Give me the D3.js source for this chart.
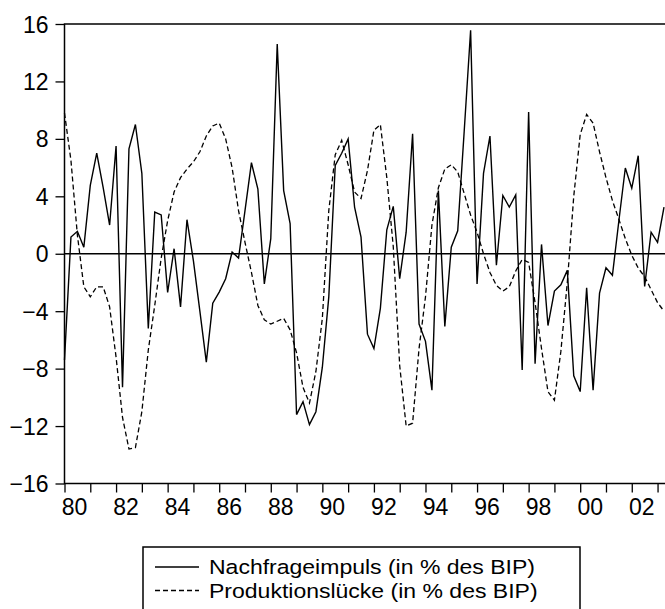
<!DOCTYPE html>
<html>
<head>
<meta charset="utf-8">
<script src="https://cdn.jsdelivr.net/npm/d3@7"></script>
<style>
  html, body { margin: 0; padding: 0; background: #fff; }
  svg { display: block; }
  text { font-family: "Liberation Sans", Arial, Helvetica, sans-serif; fill: #000; }
</style>
</head>
<body>
<svg id="chart" width="665" height="609"></svg>
<script>
// ---- Data (quarterly, 1980Q1 – 2003Q2) ----
const startYear = 1980;
const nachfrage = [
  -7.4, 1.16, 1.56, 0.46, 4.76, 7.0, 4.6, 2.0, 7.5, -9.3,
  7.3, 9.0, 5.6, -5.2, 2.9, 2.7, -2.7, 0.35, -3.7, 2.37,
  -0.5, -4.0, -7.55, -3.44, -2.67, -1.74, 0.12, -0.3, 3.0, 6.34,
  4.5, -2.1, 1.05, 14.6, 4.4, 2.1, -11.2, -10.3, -11.9, -11.0,
  -7.9, -3.0, 6.15, 7.0, 8.0, 3.25, 1.16, -5.6, -6.6, -3.8,
  1.67, 3.3, -1.74, 1.5, 8.36, -4.9, -6.1, -9.5, 4.4, -5.06,
  0.46, 1.6, 8.5, 15.56, -2.1, 5.6, 8.2, -0.8, 4.06, 3.25,
  4.1, -8.1, 9.87, -7.66, 0.65, -5.0, -2.6, -2.16, -1.16, -8.5,
  -9.6, -2.37, -9.5, -2.74, -0.98, -1.5, 2.3, 5.97, 4.57, 6.83,
  -2.28, 1.5, 0.8, 3.25
];
const produktion = [
  9.8, 6.5, 1.3, -2.3, -3.0, -2.3, -2.3, -3.7, -7.2, -11.4,
  -13.6, -13.5, -11.0, -6.7, -3.6, -0.3, 2.3, 4.3, 5.3, 5.9,
  6.4, 7.1, 8.2, 8.9, 9.1, 8.0, 6.0, 3.0, 0.8, -1.3,
  -3.6, -4.6, -4.9, -4.7, -4.5, -5.3, -6.9, -9.3, -10.4, -8.2,
  -4.5, 3.0, 6.9, 7.9, 6.2, 4.3, 3.85, 5.8, 8.6, 9.0,
  5.3, 0.5, -7.8, -12.0, -11.8, -6.6, -3.0, 2.0, 4.6, 5.9,
  6.2, 5.7, 4.2, 2.7, 1.5, 0.0, -1.3, -2.2, -2.6, -2.3,
  -1.2, -0.4, -0.6, -3.4, -6.6, -9.6, -10.2, -6.8, -2.0, 4.0,
  8.3, 9.7, 9.1, 7.1, 5.3, 3.7, 2.4, 1.05, -0.1, -1.0,
  -1.6, -2.5, -3.4, -4.0
];
const yTicks = [-16, -12, -8, -4, 0, 4, 8, 12, 16];
const yearTicks = ["80","81","82","83","84","85","86","87","88","89","90","91",
                   "92","93","94","95","96","97","98","99","00","01","02","03"];
const yearLabels = ["80","82","84","86","88","90","92","94","96","98","00","02"];
const legendLabels = ["Nachfrageimpuls (in % des BIP)", "Produktionslücke (in % des BIP)"];

(function () {
  const svg = d3.select("#chart");
  const mLeft = 64.5, mRight = 664, mTop = 24, mBottom = 483.5;
  const fontSize = 23;

  const x = d3.scaleLinear().domain([0, nachfrage.length - 1]).range([mLeft, mRight]);
  const y = d3.scaleLinear().domain([-16, 16]).range([mBottom, mTop]);

  // Y axis
  const yAxis = d3.axisLeft(y).tickValues(yTicks).tickSize(9).tickPadding(7)
    .tickFormat(d3.format("d"));
  const gy = svg.append("g").attr("transform", `translate(${mLeft},0)`).call(yAxis);
  gy.select(".domain").remove();
  gy.selectAll("line").attr("stroke", "#000").attr("stroke-width", 1.3);
  gy.selectAll("text").style("font-size", fontSize + "px")
    .style("font-family", '"Liberation Sans", Arial, sans-serif').attr("dy", "0.35em");

  // X axis ticks (one per year)
  const yearIndex = yearTicks.map((d, i) => i * 4);
  const xAxis = d3.axisBottom(x).tickValues(yearIndex).tickSize(9).tickFormat("");
  const gx = svg.append("g").attr("transform", `translate(0,${mBottom})`).call(xAxis);
  gx.select(".domain").remove();
  gx.selectAll("line").attr("stroke", "#000").attr("stroke-width", 1.3);

  // X labels (even years), offset between ticks
  svg.append("g").selectAll("text").data(yearLabels).join("text")
    .attr("x", (d, i) => x(i * 8) + 10)
    .attr("y", 515)
    .attr("text-anchor", "middle")
    .style("font-size", fontSize + "px")
    .text(d => d);

  // Frame (left, top, bottom)
  svg.append("path")
    .attr("d", `M${mRight + 2},${mTop}H${mLeft}V${mBottom}H${mRight + 2}`)
    .attr("fill", "none").attr("stroke", "#000").attr("stroke-width", 1.5);

  // Zero line
  svg.append("line")
    .attr("x1", mLeft).attr("x2", mRight + 2)
    .attr("y1", y(0)).attr("y2", y(0))
    .attr("stroke", "#000").attr("stroke-width", 1.3);

  // Series
  const line = d3.line().x((d, i) => x(i)).y(d => y(d));
  svg.append("path").datum(produktion)
    .attr("d", line).attr("fill", "none").attr("stroke", "#000")
    .attr("stroke-width", 1.3).attr("stroke-dasharray", "5,3");
  svg.append("path").datum(nachfrage)
    .attr("d", line).attr("fill", "none").attr("stroke", "#000")
    .attr("stroke-width", 1.4).attr("stroke-linejoin", "miter");

  // Legend
  const lg = svg.append("g");
  lg.append("rect").attr("x", 143).attr("y", 547).attr("width", 437).attr("height", 70)
    .attr("fill", "#fff").attr("stroke", "#000").attr("stroke-width", 1.5);
  const styles = [null, "5,3"];
  legendLabels.forEach((lab, i) => {
    const cy = 567 + i * 23.5;
    lg.append("line").attr("x1", 155).attr("x2", 199).attr("y1", cy).attr("y2", cy)
      .attr("stroke", "#000").attr("stroke-width", 1.3)
      .attr("stroke-dasharray", styles[i]);
    const t = lg.append("text").attr("x", 209).attr("y", cy).attr("dy", "0.35em")
      .style("font-size", fontSize + "px").text(lab);
    const w = t.node().getComputedTextLength();
    t.style("font-size", "20.5px")
      .attr("textLength", w).attr("lengthAdjust", "spacingAndGlyphs");
  });
})();
</script>
</body>
</html>
